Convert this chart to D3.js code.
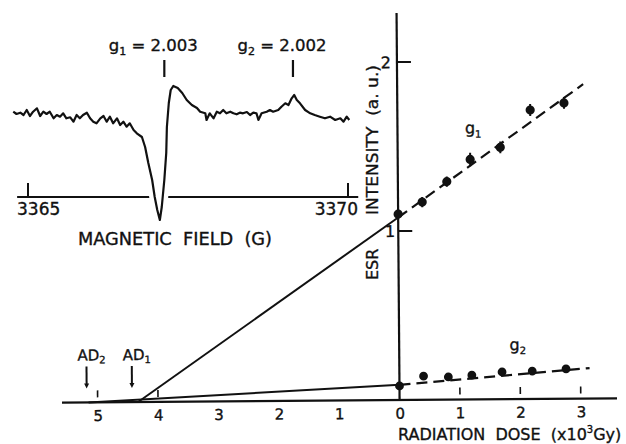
<!DOCTYPE html>
<html>
<head>
<meta charset="utf-8">
<script src="https://cdn.jsdelivr.net/npm/d3@7"></script>
<style>
  html, body { margin: 0; padding: 0; background: #fff; }
  svg { display: block; font-family: "DejaVu Sans", sans-serif; }
  text { fill: #111; stroke: #111; stroke-width: 0.35px; white-space: pre; }
</style>
</head>
<body>
<div id="chart"></div>
<script>
// inset: ESR spectrum (field in G, signal in a.u.)
const fieldG = [3364.77, 3364.82, 3364.88, 3364.93, 3364.98, 3365.03, 3365.08, 3365.14, 3365.19, 3365.24,
  3365.29, 3365.34, 3365.40, 3365.45, 3365.50, 3365.55, 3365.60, 3365.66, 3365.71, 3365.76,
  3365.81, 3365.86, 3365.92, 3365.97, 3366.02, 3366.07, 3366.13, 3366.18, 3366.23, 3366.28,
  3366.33, 3366.39, 3366.44, 3366.49, 3366.54, 3366.59, 3366.65, 3366.70, 3366.78, 3366.83,
  3366.88, 3366.94, 3366.98, 3367.02, 3367.06, 3367.09, 3367.13, 3367.16, 3367.17, 3367.20,
  3367.23, 3367.27, 3367.34, 3367.41, 3367.48, 3367.56, 3367.64, 3367.69, 3367.77, 3367.79,
  3367.84, 3367.90, 3367.95, 3368.00, 3368.05, 3368.10, 3368.16, 3368.21, 3368.26, 3368.31,
  3368.36, 3368.42, 3368.47, 3368.52, 3368.57, 3368.60, 3368.65, 3368.73, 3368.78, 3368.83,
  3368.91, 3368.96, 3369.02, 3369.07, 3369.12, 3369.16, 3369.20, 3369.25, 3369.33, 3369.41,
  3369.48, 3369.56, 3369.64, 3369.72, 3369.80, 3369.88, 3369.93, 3369.98, 3370.02];
const esrSignal = [0.53, 0.3, 0.43, 0.2, 0.7, 0.1, 0.53, 0.87, 0.1, 0.53,
  0.3, 0.53, -0.13, 0.2, 0.03, 0.37, -0.13, -0.03, -0.47, 0.2,
  -0.13, 0.2, 0.43, -0.13, -0.47, -0.63, -0.13, 0.1, -0.47, 0.03,
  -0.63, -0.13, -0.8, -0.47, -0.97, -0.63, -1.3, -1.63, -2.0, -3.0,
  -4.6, -6.3, -8.0, -9.3, -10.3, -9.0, -6.3, -3.6, -1.0, 1.4,
  2.7, 3.1, 2.9, 2.4, 1.7, 1.2, 0.9, 0.53, 0.37, -0.3,
  0.37, -0.13, 0.53, 0.37, 0.7, 0.37, 0.53, 0.37, 0.27, 0.43,
  0.37, 0.5, 0.2, 0.43, 0.37, -0.3, 0.37, 0.53, 0.7, 0.53,
  0.7, 1.03, 1.37, 1.2, 1.87, 2.2, 1.7, 1.37, 0.7, 0.37,
  0.2, 0.03, -0.13, 0.03, -0.3, -0.13, -0.47, 0.03, -0.3];
const fieldTicks = [3365, 3370];
const gMarkerField = [3367.13, 3369.14];
const gMarkerIndex = ['1', '2'];
const gMarkerValue = ['2.003', '2.002'];

// main: ESR intensity vs radiation dose (x10^3 Gy)
const dose = [0, 0.4, 0.81, 1.2, 1.7, 2.2, 2.76];
const g1Intensity = [1.10, 1.17, 1.29, 1.42, 1.49, 1.71, 1.75];
const g1Error = [0.03, 0.03, 0.03, 0.04, 0.035, 0.035, 0.035];
const g2Intensity = [0.083, 0.14, 0.134, 0.144, 0.161, 0.165, 0.176];
const g1FitDose = [-4.33, 0, 3.08];
const g1FitIntensity = [0, 1.08, 1.86];
const g2FitDose = [-5.15, 0, 3.15];
const g2FitIntensity = [0, 0.09, 0.18];
const adDose = [-5.18, -4.43];
const adIndex = ['2', '1'];
const doseTicks = [-5, -4, -3, -2, -1, 0, 1, 2, 3];
const doseTickMarks = [-5, -4, 1, 2, 3];
const intensityTicks = [1, 2];

const w = 626;
const h = 444;
const ink = '#111';

const svg = d3.select('#chart').append('svg').attr('width', w).attr('height', h);

// ---------- inset spectrum ----------
const xField = d3.scaleLinear().domain([3365, 3370]).range([28, 348]);
const ySig = d3.scaleLinear().domain([-11, 4]).range([227, 77]);
const insetAxisY = 197;
const inset = svg.append('g');

inset.append('line')
  .attr('x1', xField(3364.83)).attr('x2', xField(3370.16))
  .attr('y1', insetAxisY).attr('y2', insetAxisY)
  .attr('stroke', ink).attr('stroke-width', 2);

inset.selectAll('line.ftick').data(fieldTicks).enter().append('line')
  .attr('class', 'ftick')
  .attr('x1', d => xField(d)).attr('x2', d => xField(d))
  .attr('y1', insetAxisY - 14).attr('y2', insetAxisY)
  .attr('stroke', ink).attr('stroke-width', 2);

inset.selectAll('text.flab').data(fieldTicks).enter().append('text')
  .attr('class', 'flab')
  .attr('x', (d, i) => xField(d) + (i === 0 ? -11 : 10))
  .attr('y', 215)
  .attr('text-anchor', (d, i) => i === 0 ? 'start' : 'end')
  .attr('font-size', 17)
  .text(d => d);

inset.append('text')
  .attr('x', 78).attr('y', 245)
  .attr('font-size', 17)
  .attr('textLength', 194).attr('lengthAdjust', 'spacingAndGlyphs')
  .text('MAGNETIC  FIELD  (G)');

const specLine = d3.line()
  .x((d, i) => xField(fieldG[i]))
  .y(d => ySig(d));

inset.append('path').datum(esrSignal)
  .attr('d', specLine).attr('fill', 'none')
  .attr('stroke', '#fff').attr('stroke-width', 11).attr('stroke-linejoin', 'round');
inset.append('path').datum(esrSignal)
  .attr('d', specLine).attr('fill', 'none')
  .attr('stroke', ink).attr('stroke-width', 2.2).attr('stroke-linejoin', 'round');

inset.selectAll('line.gmark').data(gMarkerField).enter().append('line')
  .attr('class', 'gmark')
  .attr('x1', d => xField(d)).attr('x2', d => xField(d))
  .attr('y1', 60).attr('y2', 77)
  .attr('stroke', ink).attr('stroke-width', 2.2);

const gLab = inset.selectAll('text.glab').data(gMarkerField).enter().append('text')
  .attr('class', 'glab')
  .attr('x', d => xField(d) - 11).attr('y', 51)
  .attr('text-anchor', 'middle')
  .attr('font-size', 16.5);
gLab.append('tspan').text('g');
gLab.append('tspan').attr('font-size', 11).attr('dy', 4).text((d, i) => gMarkerIndex[i]);
gLab.append('tspan').attr('dy', -4).text((d, i) => ' = ' + gMarkerValue[i]);

// ---------- main dose plot ----------
const x = d3.scaleLinear().domain([-5.59, 3.6]).range([62, 617]);
const y = d3.scaleLinear().domain([0, 2]).range([400, 62]);
const plot = svg.append('g').attr('transform', 'rotate(-0.45,' + x(0) + ',' + y(0) + ')');

plot.append('line')
  .attr('x1', x(-5.59)).attr('x2', x(3.6))
  .attr('y1', y(0)).attr('y2', y(0))
  .attr('stroke', ink).attr('stroke-width', 2.2);

plot.append('line')
  .attr('x1', x(0)).attr('x2', x(0))
  .attr('y1', y(0)).attr('y2', y(2.29))
  .attr('stroke', ink).attr('stroke-width', 2.2);

plot.selectAll('line.dtick').data(doseTickMarks).enter().append('line')
  .attr('class', 'dtick')
  .attr('x1', d => x(d)).attr('x2', d => x(d))
  .attr('y1', y(0) - 12).attr('y2', y(0) - 5)
  .attr('stroke', ink).attr('stroke-width', 1.6);

const xAxis = d3.axisBottom(x).tickValues(doseTicks).tickSize(0).tickPadding(8)
  .tickFormat(d => Math.abs(d));
const xg = plot.append('g').attr('transform', 'translate(0,' + y(0) + ')').call(xAxis);
xg.select('.domain').remove();
xg.selectAll('text').attr('font-size', 15).attr('font-family', '"DejaVu Sans", sans-serif').attr('fill', ink);

plot.selectAll('line.itick').data(intensityTicks).enter().append('line')
  .attr('class', 'itick')
  .attr('x1', x(0)).attr('x2', x(0) + 14)
  .attr('y1', d => y(d)).attr('y2', d => y(d))
  .attr('stroke', ink).attr('stroke-width', 2);

plot.selectAll('text.ilab').data(intensityTicks).enter().append('text')
  .attr('class', 'ilab')
  .attr('x', d => x(0) - (d === 2 ? 6 : 3))
  .attr('y', d => y(d) + 6)
  .attr('text-anchor', 'end')
  .attr('font-size', 16)
  .text(d => d);

// fitted lines: solid back-extrapolation, dashed over the measured range
function fitLines(fd, fi) {
  const pts = fd.map((d, i) => [x(d), y(fi[i])]);
  plot.append('path').attr('d', d3.line()(pts.slice(0, 2)))
    .attr('fill', 'none').attr('stroke', ink).attr('stroke-width', 2);
  plot.append('path').attr('d', d3.line()(pts.slice(1)))
    .attr('fill', 'none').attr('stroke', ink).attr('stroke-width', 2.2)
    .attr('stroke-dasharray', '11,6');
}
fitLines(g1FitDose, g1FitIntensity);
fitLines(g2FitDose, g2FitIntensity);

plot.selectAll('line.err').data(dose).enter().append('line')
  .attr('class', 'err')
  .attr('x1', d => x(d)).attr('x2', d => x(d))
  .attr('y1', (d, i) => y(g1Intensity[i] - g1Error[i]))
  .attr('y2', (d, i) => y(g1Intensity[i] + g1Error[i]))
  .attr('stroke', ink).attr('stroke-width', 2);

plot.selectAll('circle.g1').data(dose).enter().append('circle')
  .attr('class', 'g1')
  .attr('cx', d => x(d)).attr('cy', (d, i) => y(g1Intensity[i]))
  .attr('r', 4.6).attr('fill', ink);

plot.selectAll('circle.g2').data(dose).enter().append('circle')
  .attr('class', 'g2')
  .attr('cx', d => x(d)).attr('cy', (d, i) => y(g2Intensity[i]))
  .attr('r', 4.4).attr('fill', ink);

// series labels
const g1Lab = plot.append('text').attr('x', 467).attr('y', 134).attr('font-size', 16);
g1Lab.append('tspan').text('g');
g1Lab.append('tspan').attr('font-size', 10).attr('dy', 4).text('1');
const g2Lab = plot.append('text').attr('x', 510).attr('y', 351).attr('font-size', 16);
g2Lab.append('tspan').text('g');
g2Lab.append('tspan').attr('font-size', 10).attr('dy', 4).text('2');

// AD arrows
plot.selectAll('line.ad').data(adDose).enter().append('line')
  .attr('class', 'ad')
  .attr('x1', d => x(d)).attr('x2', d => x(d))
  .attr('y1', y(0) - 36).attr('y2', y(0) - 17)
  .attr('stroke', ink).attr('stroke-width', 2);
plot.selectAll('path.adhead').data(adDose).enter().append('path')
  .attr('class', 'adhead')
  .attr('d', d => 'M' + (x(d) - 2.5) + ',' + (y(0) - 19) + 'L' + (x(d) + 2.5) + ',' + (y(0) - 19) + 'L' + x(d) + ',' + (y(0) - 14) + 'Z')
  .attr('fill', ink);
const adLab = plot.selectAll('text.adlab').data(adDose).enter().append('text')
  .attr('class', 'adlab')
  .attr('x', d => x(d) - 9).attr('y', y(0) - 42)
  .attr('font-size', 15);
adLab.append('tspan').text('AD');
adLab.append('tspan').attr('font-size', 10).attr('dy', 3).text((d, i) => adIndex[i]);

// axis titles
svg.append('text')
  .attr('transform', 'translate(378,215) rotate(-90)')
  .attr('font-size', 16)
  .attr('textLength', 150).attr('lengthAdjust', 'spacingAndGlyphs')
  .text('INTENSITY  (a. u.)');
svg.append('text')
  .attr('transform', 'translate(378,280) rotate(-90)')
  .attr('font-size', 16)
  .text('ESR');

const xt = svg.append('text').attr('x', 398).attr('y', 440).attr('font-size', 16);
xt.append('tspan').text('RADIATION  DOSE  (x10');
xt.append('tspan').attr('font-size', 10).attr('dy', -7).text('3');
xt.append('tspan').attr('dy', 7).text('Gy)');
</script>
</body>
</html>
